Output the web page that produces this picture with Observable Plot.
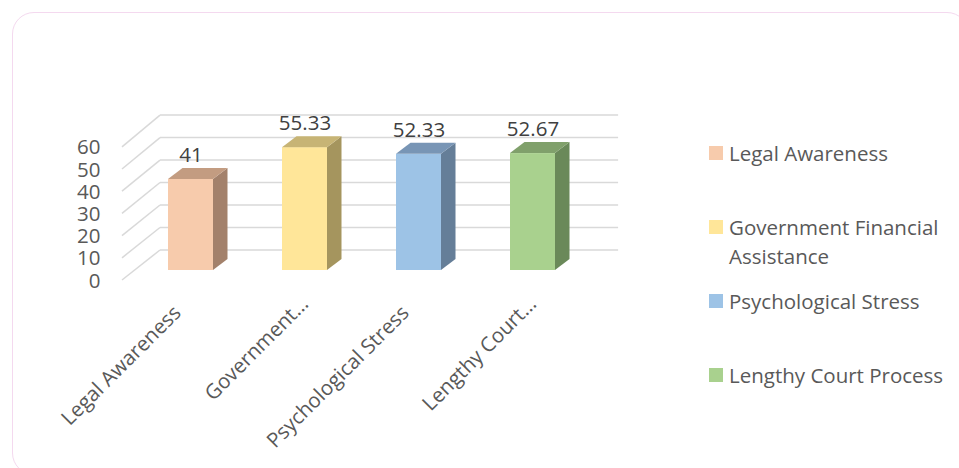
<!DOCTYPE html>
<html>
<head>
<meta charset="utf-8">
<script src="https://cdn.jsdelivr.net/npm/d3@7"></script>
<script src="https://cdn.jsdelivr.net/npm/@observablehq/plot@0.6"></script>
<style>
  html, body { margin: 0; padding: 0; background: #ffffff; }
  #wrap { position: relative; width: 959px; height: 468px; overflow: hidden; font-family: "Open Sans", sans-serif; }
  #frame { position: absolute; left: 12px; top: 12px; width: 957px; height: 463px; box-sizing: border-box;
           border: 1.5px solid #f4d9ef; border-radius: 22px; }
  #chart { position: absolute; left: 0; top: 0; }
  #legend { position: absolute; left: 709px; top: 0; }
  .item { position: absolute; left: 0; display: flex; align-items: flex-start; }
  .sw { width: 14px; height: 14px; margin-top: 7.5px; margin-right: 6px; flex: none; }
  .lab { width: 228px; font-size: 20.5px; line-height: 29px; color: #595959; }
</style>
</head>
<body>
<div id="wrap">
  <div id="frame"></div>
  <div id="chart"></div>
  <div id="legend"></div>
</div>
<script>
// ---- data ----
const categories = ["Legal Awareness", "Government Financial Assistance", "Psychological Stress", "Lengthy Court Process"];
const values = [41, 55.33, 52.33, 52.67];
const valueLabels = ["41", "55.33", "52.33", "52.67"];
const axisLabels = ["Legal Awareness", "Government...", "Psychological Stress", "Lengthy Court..."];
const yTicks = [0, 10, 20, 30, 40, 50, 60];
const frontColors = ["#f7cbac", "#ffe699", "#9dc3e6", "#a9d18e"];
const sideColors  = ["#a3816b", "#a5955e", "#657e98", "#6a8959"];
const topColors   = ["#c39c81", "#c7b475", "#7895b5", "#80a06b"];

const data = categories.map((c, i) => ({cat: c, value: values[i], label: valueLabels[i], axis: axisLabels[i]}));
const truncated = d => d.axis.endsWith("...");

// 3D depth offsets (pixels)
const barDepth = [14.5, -11];
const wallDepth = [25.5, -20];
const frontEdge = [-12.5, 10];

function bw(scale) {
  return typeof scale.bandwidth === "function" ? scale.bandwidth() : scale.bandwidth;
}

// gridlines: left wall diagonals + back wall horizontals
function grid(index, scales) {
  const g = d3.create("svg:g");
  const xr = scales.x.range ? scales.x.range() : [111, 612.6];
  const y0 = scales.y(0);
  const wallLeft = xr[0] + 49;
  const wallRight = xr[1] + 5.5;
  for (const v of yTicks) {
    const yf = scales.y(v);
    const wy = yf + wallDepth[1] - (y0 - yf) * 0.013;
    g.append("line")
      .attr("x1", wallLeft + frontEdge[0] - wallDepth[0]).attr("y1", yf + frontEdge[1])
      .attr("x2", wallLeft).attr("y2", wy)
      .attr("stroke", "#d9d9d9").attr("stroke-width", 1.5);
    g.append("line")
      .attr("x1", wallLeft).attr("y1", wy)
      .attr("x2", wallRight).attr("y2", wy)
      .attr("stroke", "#d9d9d9").attr("stroke-width", 1.5);
  }
  return g.node();
}

// side and top faces of each bar
function faces(index, scales) {
  const g = d3.create("svg:g");
  const w = bw(scales.x);
  data.forEach((d, i) => {
    const x0 = scales.x(d.cat), x1 = x0 + w;
    const yb = scales.y(0), yt = scales.y(d.value);
    const [bx, by] = barDepth;
    g.append("polygon")
      .attr("points", [[x1, yt], [x1 + bx, yt + by], [x1 + bx, yb + by], [x1, yb]].map(p => p.join(",")).join(" "))
      .attr("fill", sideColors[i]);
    g.append("polygon")
      .attr("points", [[x0, yt], [x0 + bx, yt + by], [x1 + bx, yt + by], [x1, yt]].map(p => p.join(",")).join(" "))
      .attr("fill", topColors[i]);
  });
  return g.node();
}

const chart = Plot.plot({
  width: 700,
  height: 468,
  margin: 0,
  style: {fontFamily: "Open Sans, sans-serif", fontSize: "20.5px", background: "transparent", overflow: "visible"},
  x: {type: "band", domain: categories, range: [111, 612.6], paddingInner: 0.606, paddingOuter: 0.5, axis: null},
  y: {domain: [0, 60], range: [270, 136.8], axis: null},
  color: {domain: categories, range: frontColors},
  marks: [
    grid,
    Plot.barY(data, {x: "cat", y: "value", fill: "cat"}),
    faces,
    Plot.text(data, {x: "cat", y: "value", text: "label", dy: -24, fill: "#404040", fontSize: 20.5}),
    Plot.text(yTicks, {y: d => d, text: d => String(d), frameAnchor: "left", dx: 100, dy: 10.5,
                       textAnchor: "end", fill: "#595959", fontSize: 20.5}),
    Plot.text(data, {filter: d => !truncated(d), x: "cat", y: () => 0, text: "axis", rotate: -45, textAnchor: "end",
                     dx: -13.5, dy: 39, fill: "#595959", fontSize: 20.5}),
    Plot.text(data, {filter: truncated, x: "cat", y: () => 0, text: "axis", rotate: -45, textAnchor: "end",
                     dx: 0, dy: 30, fill: "#595959", fontSize: 20.5})
  ]
});
document.getElementById("chart").appendChild(chart);

// legend (colors from the plot's color scale)
const color = chart.scale("color");
const legend = document.getElementById("legend");
categories.forEach((c, i) => {
  const item = document.createElement("div");
  item.className = "item";
  item.style.top = (138.5 + 74 * i) + "px";
  const sw = document.createElement("div");
  sw.className = "sw";
  sw.style.background = color.apply(c);
  const lab = document.createElement("div");
  lab.className = "lab";
  lab.textContent = c;
  item.appendChild(sw);
  item.appendChild(lab);
  legend.appendChild(item);
});
</script>
</body>
</html>
